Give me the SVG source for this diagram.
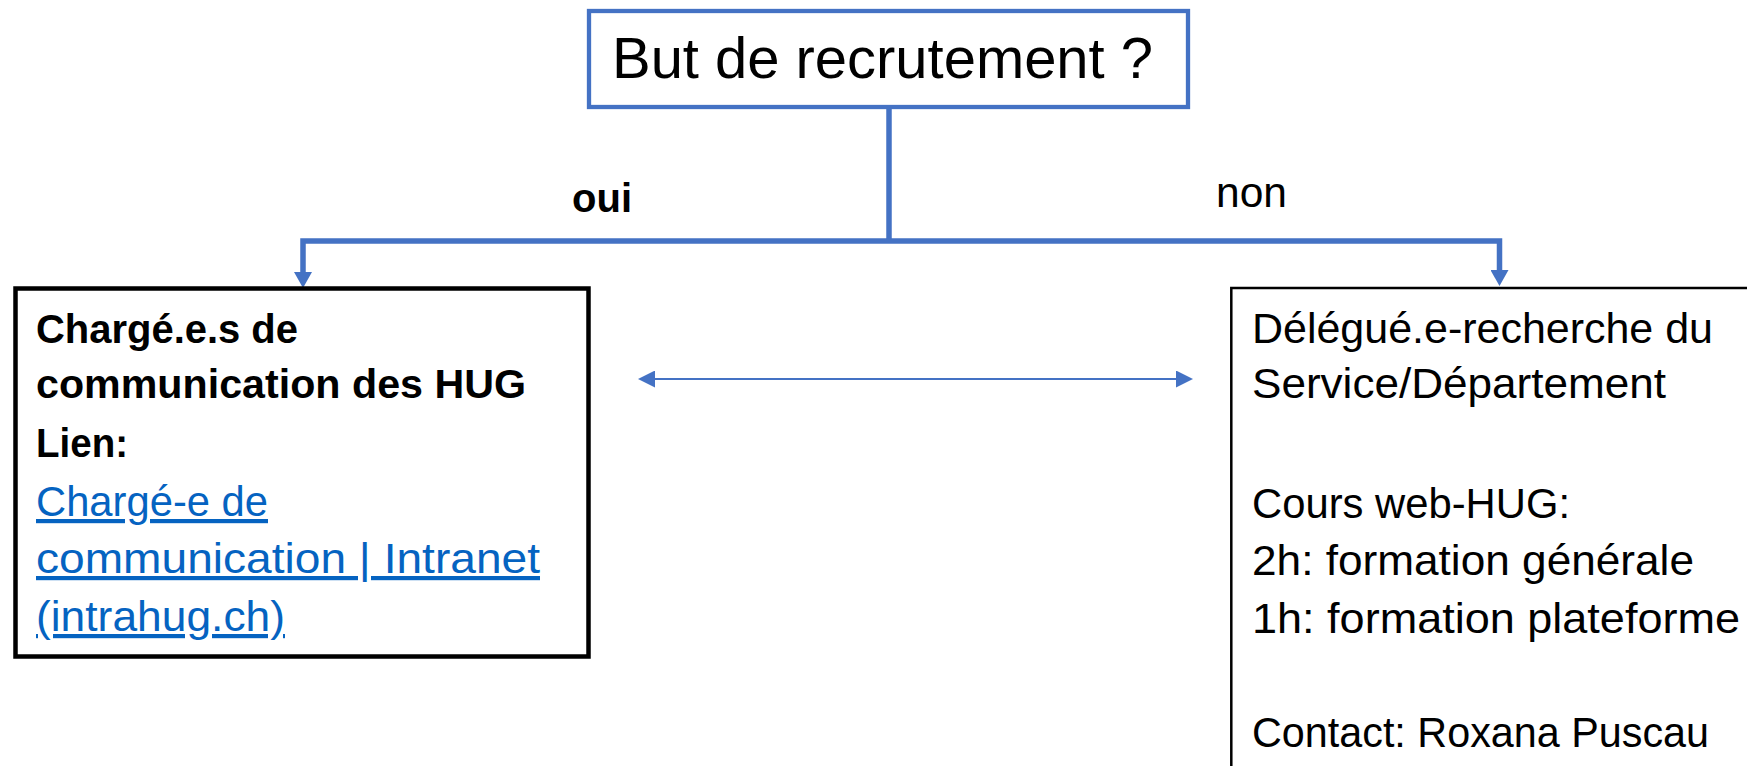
<svg xmlns="http://www.w3.org/2000/svg" width="1747" height="766" viewBox="0 0 1747 766">
  <style>
    text { font-family: "Liberation Sans", Arial, sans-serif; fill: #000; }
    .bold { font-weight: bold; }
    .link { fill: #0563C1; text-decoration: underline; }
    .conn { fill: none; stroke: #4472C4; stroke-width: 5.5; stroke-linejoin: miter; }
    .thin { fill: none; stroke: #4472C4; stroke-width: 2; }
  </style>
  <defs>
    <marker id="headBig" viewBox="0 0 16 18" refX="0" refY="9" markerWidth="16" markerHeight="18" markerUnits="userSpaceOnUse" orient="auto-start-reverse">
      <path d="M0,0 L16,9 L0,18 Z" fill="#4472C4"/>
    </marker>
    <marker id="headSmall" viewBox="0 0 17 17" refX="0" refY="8.5" markerWidth="17" markerHeight="17" markerUnits="userSpaceOnUse" orient="auto-start-reverse">
      <path d="M0,0 L17,8.5 L0,17 Z" fill="#4472C4"/>
    </marker>
  </defs>
  <rect width="1747" height="766" fill="#fff"/>

  <g id="connectors">
    <line class="conn" x1="889" y1="107" x2="889" y2="241"/>
    <path class="conn" d="M303,272 L303,241 L1499.5,241 L1499.5,270" marker-start="url(#headBig)" marker-end="url(#headBig)"/>
    <line class="thin" x1="655" y1="379" x2="1176" y2="379" marker-start="url(#headSmall)" marker-end="url(#headSmall)"/>
    <text x="572" y="212" class="bold" font-size="40" textLength="60" lengthAdjust="spacingAndGlyphs">oui</text>
    <text x="1216" y="207" font-size="42" textLength="71" lengthAdjust="spacingAndGlyphs">non</text>
  </g>

  <g id="node-question">
    <rect x="589" y="11" width="599" height="96" fill="#fff" stroke="#4472C4" stroke-width="4.3"/>
    <text x="612" y="78" font-size="58" textLength="541" lengthAdjust="spacingAndGlyphs">But de recrutement ?</text>
  </g>

  <g id="node-oui">
    <rect x="15.5" y="288.5" width="573" height="368" fill="#fff" stroke="#000" stroke-width="4.5"/>
    <text x="36" y="343" class="bold" font-size="41" textLength="262" lengthAdjust="spacingAndGlyphs">Chargé.e.s de</text>
    <text x="36" y="398" class="bold" font-size="41" textLength="490" lengthAdjust="spacingAndGlyphs">communication des HUG</text>
    <text x="36" y="457" class="bold" font-size="41" textLength="92" lengthAdjust="spacingAndGlyphs">Lien:</text>
    <text x="36" y="516" class="link" font-size="42" textLength="232" lengthAdjust="spacingAndGlyphs">Chargé-e de</text>
    <text x="36" y="573" class="link" font-size="42" textLength="504" lengthAdjust="spacingAndGlyphs">communication | Intranet</text>
    <text x="36" y="631" class="link" font-size="42" textLength="249" lengthAdjust="spacingAndGlyphs">(intrahug.ch)</text>
  </g>

  <g id="node-non">
    <rect x="1231.3" y="288" width="560" height="520" fill="#fff" stroke="#000" stroke-width="2.5"/>
    <text x="1252" y="343" font-size="42" textLength="461" lengthAdjust="spacingAndGlyphs">Délégué.e-recherche du</text>
    <text x="1252" y="398" font-size="42" textLength="414" lengthAdjust="spacingAndGlyphs">Service/Département</text>
    <text x="1252" y="518" font-size="42" textLength="318" lengthAdjust="spacingAndGlyphs">Cours web-HUG:</text>
    <text x="1252" y="575" font-size="42" textLength="442" lengthAdjust="spacingAndGlyphs">2h: formation générale</text>
    <text x="1252" y="633" font-size="42" textLength="488" lengthAdjust="spacingAndGlyphs">1h: formation plateforme</text>
    <text x="1252" y="747" font-size="42" textLength="457" lengthAdjust="spacingAndGlyphs">Contact: Roxana Puscau</text>
  </g>
</svg>
